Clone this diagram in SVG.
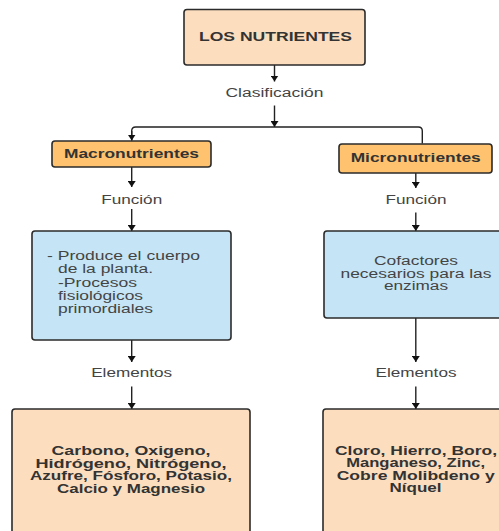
<svg xmlns="http://www.w3.org/2000/svg" width="499" height="531" viewBox="0 0 499 531">
<style>
.box{stroke:#2b2b2b;stroke-width:1.6}
.peach{fill:#fcdebf}
.orange{fill:#ffc36f}
.blue{fill:#c5e4f5}
.b{font-family:"Liberation Sans",Arial,sans-serif;font-size:12px;font-weight:bold;fill:#333}
.r{font-family:"Liberation Sans",Arial,sans-serif;font-size:12px;fill:#444}
.m{text-anchor:middle}
.ln{fill:none;stroke:#222;stroke-width:1.4}
</style>
<defs>
<marker id="ah" viewBox="0 0 6 8" refX="6" refY="4" markerWidth="6" markerHeight="8" markerUnits="userSpaceOnUse" orient="auto">
<path d="M0,0 L6,4 L0,8 Z" fill="#111"/>
</marker>
</defs>
<rect width="499" height="531" fill="#fff"/>
<g id="connectors">
<line class="ln" x1="274.5" y1="65" x2="274.5" y2="81.5" marker-end="url(#ah)"/>
<line class="ln" x1="274.5" y1="105.5" x2="274.5" y2="127" marker-end="url(#ah)"/>
<path class="ln" d="M131.7,140.5 V131 Q131.7,127 135.7,127 H418.3 Q422.3,127 422.3,131 V143.5"/>
<path class="ln" d="M131.7,131 V140.5" marker-end="url(#ah)"/>
<line class="ln" x1="131.7" y1="167" x2="131.7" y2="187" marker-end="url(#ah)"/>
<line class="ln" x1="131.7" y1="209" x2="131.7" y2="231" marker-end="url(#ah)"/>
<line class="ln" x1="415.8" y1="173" x2="415.8" y2="188" marker-end="url(#ah)"/>
<line class="ln" x1="415.8" y1="212.5" x2="415.8" y2="231" marker-end="url(#ah)"/>
<line class="ln" x1="131.7" y1="340" x2="131.7" y2="362" marker-end="url(#ah)"/>
<line class="ln" x1="131.7" y1="386.5" x2="131.7" y2="409" marker-end="url(#ah)"/>
<line class="ln" x1="415.8" y1="318" x2="415.8" y2="362" marker-end="url(#ah)"/>
<line class="ln" x1="415.8" y1="386.5" x2="415.8" y2="409" marker-end="url(#ah)"/>
<text class="r m" x="274.5" y="96.5" textLength="98" lengthAdjust="spacingAndGlyphs">Clasificación</text>
<text class="r m" x="131.7" y="204" textLength="61" lengthAdjust="spacingAndGlyphs">Función</text>
<text class="r m" x="416" y="204" textLength="61" lengthAdjust="spacingAndGlyphs">Función</text>
<text class="r m" x="131.7" y="377.3" textLength="81" lengthAdjust="spacingAndGlyphs">Elementos</text>
<text class="r m" x="416" y="377.3" textLength="81" lengthAdjust="spacingAndGlyphs">Elementos</text>
</g>
<g id="nutrientes">
<rect class="box peach" x="184" y="9.5" width="181" height="55.5" rx="3"/>
<text class="b m" x="275.5" y="41" textLength="153" lengthAdjust="spacingAndGlyphs">LOS NUTRIENTES</text>
</g>
<g id="macronutrientes">
<rect class="box orange" x="52" y="141" width="159" height="26" rx="3"/>
<text class="b m" x="131.5" y="157.8" textLength="135" lengthAdjust="spacingAndGlyphs">Macronutrientes</text>
</g>
<g id="micronutrientes">
<rect class="box orange" x="339" y="144" width="153" height="29" rx="3"/>
<text class="b m" x="415.7" y="162.2" textLength="130" lengthAdjust="spacingAndGlyphs">Micronutrientes</text>
</g>
<g id="funcion-macro">
<rect class="box blue" x="32" y="231" width="199" height="109" rx="3"/>
<text class="r" x="47" y="260" textLength="153" lengthAdjust="spacingAndGlyphs">- Produce el cuerpo</text>
<text class="r" x="58" y="273.3" textLength="95" lengthAdjust="spacingAndGlyphs">de la planta.</text>
<text class="r" x="58" y="286.5" textLength="79" lengthAdjust="spacingAndGlyphs">-Procesos</text>
<text class="r" x="58" y="299.7" textLength="85" lengthAdjust="spacingAndGlyphs">fisiológicos</text>
<text class="r" x="58" y="313" textLength="95" lengthAdjust="spacingAndGlyphs">primordiales</text>
</g>
<g id="funcion-micro">
<rect class="box blue" x="324" y="231" width="184" height="87" rx="3"/>
<text class="r m" x="416" y="265" textLength="84" lengthAdjust="spacingAndGlyphs">Cofactores</text>
<text class="r m" x="416" y="277.5" textLength="151" lengthAdjust="spacingAndGlyphs">necesarios para las</text>
<text class="r m" x="416" y="290" textLength="64" lengthAdjust="spacingAndGlyphs">enzimas</text>
</g>
<g id="elementos-macro">
<rect class="box peach" x="12" y="409" width="238" height="140" rx="3"/>
<text class="b m" x="131" y="455" textLength="159" lengthAdjust="spacingAndGlyphs">Carbono, Oxigeno,</text>
<text class="b m" x="131" y="467.5" textLength="191" lengthAdjust="spacingAndGlyphs">Hidrógeno, Nitrógeno,</text>
<text class="b m" x="131" y="480" textLength="202" lengthAdjust="spacingAndGlyphs">Azufre, Fósforo, Potasio,</text>
<text class="b m" x="131" y="492.5" textLength="148" lengthAdjust="spacingAndGlyphs">Calcio y Magnesio</text>
</g>
<g id="elementos-micro">
<rect class="box peach" x="323" y="409" width="186" height="140" rx="3"/>
<text class="b m" x="416" y="454.5" textLength="162" lengthAdjust="spacingAndGlyphs">Cloro, Hierro, Boro,</text>
<text class="b m" x="415.7" y="467" textLength="139" lengthAdjust="spacingAndGlyphs">Manganeso, Zinc,</text>
<text class="b m" x="415.7" y="479.5" textLength="158" lengthAdjust="spacingAndGlyphs">Cobre Molibdeno y</text>
<text class="b m" x="415.5" y="492.3" textLength="52" lengthAdjust="spacingAndGlyphs">Níquel</text>
</g>
</svg>
